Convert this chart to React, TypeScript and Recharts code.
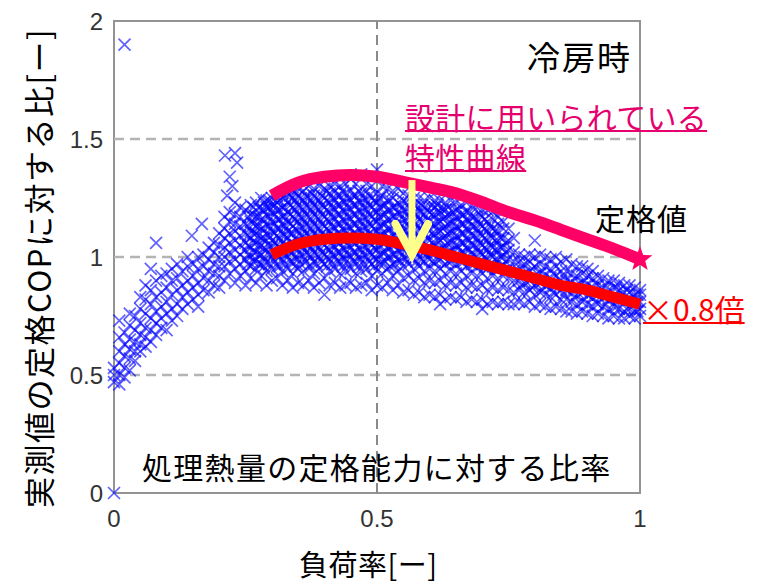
import React from 'react';
import { ComposedChart, Scatter, Line, XAxis, YAxis, ReferenceLine, ReferenceArea } from 'recharts';

// measured points, grouped by load ratio column: [x, [y values]]
const leftCols: [number, number[]][] = [
  [0.0, [0.47, 0.5, 0.53]],
  [0.01, [0.46, 0.5, 0.55, 0.6, 0.66, 0.73]],
  [0.02, [0.49, 0.53, 0.58, 0.63, 0.68]],
  [0.03, [0.52, 0.57, 0.61, 0.65, 0.71, 0.76]],
  [0.04, [0.56, 0.6, 0.64, 0.69, 0.75]],
  [0.05, [0.6, 0.63, 0.67, 0.72, 0.78, 0.83]],
  [0.06, [0.62, 0.66, 0.7, 0.76, 0.82, 0.88]],
  [0.07, [0.64, 0.69, 0.74, 0.8, 0.86, 0.95]],
  [0.08, [0.67, 0.72, 0.77, 0.83, 0.9]],
  [0.09, [0.7, 0.74, 0.79, 0.85, 0.92]],
  [0.1, [0.69, 0.76, 0.81, 0.87, 0.93]],
  [0.11, [0.73, 0.78, 0.84, 0.9, 0.95]],
  [0.12, [0.75, 0.8, 0.86, 0.91, 0.97]],
  [0.13, [0.78, 0.83, 0.88, 0.94]],
  [0.14, [0.8, 0.85, 0.9, 0.96, 1.0]],
  [0.15, [0.82, 0.87, 0.92, 0.97]],
  [0.16, [0.79, 0.84, 0.89, 0.95, 1.0]],
  [0.17, [0.86, 0.91, 0.96, 1.01]],
  [0.18, [0.85, 0.9, 0.94, 0.99, 1.04]],
  [0.19, [0.88, 0.93, 0.97, 1.02, 1.06]],
  [0.2, [0.87, 0.92, 0.96, 1.0, 1.05, 1.1]],
];

const mainCols: [number, number[]][] = [
  [0.21, [0.9, 0.96, 1.0, 1.04, 1.08, 1.12, 1.17]],
  [0.22, [0.93, 0.98, 1.02, 1.06, 1.1, 1.15, 1.19]],
  [0.23, [0.89, 0.95, 0.99, 1.03, 1.07, 1.11, 1.14, 1.18]],
  [0.24, [0.92, 0.97, 1.01, 1.05, 1.09, 1.13, 1.17, 1.21]],
  [0.25, [0.88, 0.94, 0.99, 1.03, 1.06, 1.1, 1.14, 1.2]],
  [0.26, [0.91, 0.96, 1.0, 1.04, 1.08, 1.11, 1.15, 1.18, 1.22]],
  [0.27, [0.89, 0.95, 0.99, 1.02, 1.06, 1.1, 1.13, 1.17, 1.23]],
  [0.28, [0.92, 0.97, 1.01, 1.05, 1.08, 1.12, 1.16, 1.2, 1.25]],
  [0.29, [0.88, 0.94, 0.98, 1.03, 1.07, 1.1, 1.14, 1.18, 1.21, 1.24]],
  [0.3, [0.9, 0.95, 1.0, 1.04, 1.07, 1.11, 1.15, 1.19, 1.22, 1.25]],
  [0.31, [0.91, 0.96, 1.01, 1.05, 1.09, 1.12, 1.16, 1.2, 1.23, 1.26]],
  [0.32, [0.88, 0.94, 0.99, 1.03, 1.06, 1.1, 1.14, 1.17, 1.21, 1.27]],
  [0.33, [0.9, 0.95, 1.0, 1.04, 1.08, 1.11, 1.15, 1.19, 1.23, 1.27]],
  [0.34, [0.87, 0.93, 0.98, 1.02, 1.06, 1.1, 1.13, 1.17, 1.21, 1.25, 1.28]],
  [0.35, [0.89, 0.95, 0.99, 1.03, 1.07, 1.11, 1.15, 1.18, 1.22, 1.26, 1.29]],
  [0.36, [0.88, 0.94, 1.0, 1.04, 1.08, 1.12, 1.16, 1.2, 1.24, 1.28]],
  [0.37, [0.9, 0.96, 1.01, 1.05, 1.09, 1.13, 1.17, 1.21, 1.25, 1.3]],
  [0.38, [0.87, 0.93, 0.98, 1.02, 1.06, 1.1, 1.14, 1.18, 1.22, 1.26, 1.29]],
  [0.39, [0.89, 0.95, 1.0, 1.04, 1.08, 1.12, 1.16, 1.2, 1.24, 1.3]],
  [0.4, [0.84, 0.91, 0.97, 1.01, 1.05, 1.09, 1.13, 1.17, 1.21, 1.25, 1.29]],
  [0.41, [0.88, 0.94, 0.99, 1.03, 1.07, 1.11, 1.15, 1.19, 1.23, 1.27, 1.3]],
  [0.42, [0.89, 0.95, 1.0, 1.04, 1.08, 1.12, 1.16, 1.2, 1.24, 1.28, 1.31]],
  [0.43, [0.87, 0.93, 0.98, 1.02, 1.06, 1.1, 1.14, 1.18, 1.22, 1.26, 1.3]],
  [0.44, [0.88, 0.94, 0.99, 1.03, 1.07, 1.11, 1.15, 1.19, 1.23, 1.27, 1.31]],
  [0.45, [0.89, 0.95, 1.0, 1.04, 1.08, 1.12, 1.16, 1.2, 1.24, 1.28, 1.33]],
  [0.46, [0.87, 0.93, 0.98, 1.02, 1.06, 1.1, 1.14, 1.18, 1.22, 1.26, 1.31]],
  [0.47, [0.88, 0.94, 0.99, 1.03, 1.07, 1.11, 1.15, 1.19, 1.23, 1.27, 1.35]],
  [0.48, [0.89, 0.95, 1.0, 1.04, 1.08, 1.12, 1.16, 1.2, 1.24, 1.28, 1.31]],
  [0.49, [0.86, 0.92, 0.97, 1.01, 1.05, 1.09, 1.13, 1.17, 1.21, 1.25, 1.3]],
  [0.5, [0.88, 0.94, 0.99, 1.03, 1.07, 1.11, 1.15, 1.19, 1.23, 1.27, 1.37]],
  [0.51, [0.87, 0.93, 0.98, 1.02, 1.06, 1.1, 1.14, 1.18, 1.22, 1.26, 1.3]],
  [0.52, [0.89, 0.95, 1.0, 1.04, 1.08, 1.12, 1.16, 1.2, 1.24, 1.29]],
  [0.53, [0.86, 0.92, 0.97, 1.01, 1.05, 1.09, 1.13, 1.17, 1.21, 1.25, 1.28]],
  [0.54, [0.88, 0.94, 0.99, 1.03, 1.07, 1.11, 1.15, 1.19, 1.23, 1.29]],
  [0.55, [0.85, 0.91, 0.96, 1.0, 1.04, 1.08, 1.12, 1.16, 1.2, 1.24, 1.27]],
];

const blobCols: [number, number[]][] = [
  [0.56, [0.86, 0.92, 0.97, 1.01, 1.05, 1.09, 1.13, 1.17, 1.21, 1.26]],
  [0.57, [0.84, 0.9, 0.95, 0.99, 1.03, 1.07, 1.11, 1.15, 1.19, 1.22, 1.25]],
  [0.58, [0.85, 0.91, 0.96, 1.0, 1.04, 1.08, 1.12, 1.16, 1.2, 1.25]],
  [0.59, [0.83, 0.89, 0.94, 0.98, 1.02, 1.06, 1.1, 1.14, 1.18, 1.21, 1.24]],
  [0.6, [0.84, 0.9, 0.95, 0.99, 1.03, 1.07, 1.11, 1.15, 1.19, 1.25]],
  [0.61, [0.83, 0.89, 0.94, 0.98, 1.02, 1.06, 1.1, 1.14, 1.18, 1.21, 1.24]],
  [0.62, [0.84, 0.9, 0.95, 0.99, 1.03, 1.07, 1.11, 1.15, 1.19, 1.24]],
  [0.63, [0.82, 0.88, 0.93, 0.97, 1.01, 1.05, 1.09, 1.13, 1.17, 1.2, 1.23]],
  [0.64, [0.83, 0.89, 0.94, 0.98, 1.02, 1.06, 1.1, 1.14, 1.18, 1.24]],
  [0.65, [0.82, 0.88, 0.93, 0.97, 1.01, 1.05, 1.09, 1.13, 1.17, 1.2, 1.23]],
  [0.66, [0.83, 0.89, 0.94, 0.98, 1.02, 1.06, 1.1, 1.14, 1.18, 1.22]],
  [0.67, [0.81, 0.87, 0.92, 0.96, 1.0, 1.04, 1.08, 1.12, 1.16, 1.19, 1.23]],
  [0.68, [0.82, 0.88, 0.93, 0.97, 1.01, 1.05, 1.09, 1.13, 1.17, 1.22]],
  [0.69, [0.81, 0.87, 0.92, 0.96, 1.0, 1.04, 1.08, 1.12, 1.16, 1.21]],
  [0.7, [0.82, 0.88, 0.93, 0.97, 1.01, 1.05, 1.09, 1.13, 1.17, 1.2]],
  [0.71, [0.8, 0.86, 0.91, 0.95, 0.99, 1.03, 1.07, 1.11, 1.15, 1.2]],
  [0.72, [0.81, 0.87, 0.92, 0.96, 1.0, 1.04, 1.08, 1.12, 1.16, 1.19]],
  [0.73, [0.8, 0.86, 0.91, 0.95, 0.99, 1.03, 1.07, 1.11, 1.14, 1.17]],
  [0.74, [0.81, 0.87, 0.92, 0.96, 1.0, 1.04, 1.08, 1.12, 1.15]],
  [0.75, [0.8, 0.86, 0.91, 0.95, 0.99, 1.03, 1.07, 1.12]],
  [0.76, [0.8, 0.85, 0.9, 0.94, 0.98, 1.02, 1.08]],
];

const rightCols: [number, number[]][] = [
  [0.77, [0.81, 0.86, 0.9, 0.94, 0.98, 1.01]],
  [0.78, [0.8, 0.85, 0.89, 0.93, 0.97, 1.0]],
  [0.79, [0.81, 0.86, 0.9, 0.94, 0.98, 1.01]],
  [0.8, [0.79, 0.84, 0.88, 0.92, 0.96, 1.0]],
  [0.81, [0.8, 0.85, 0.89, 0.93, 0.97, 1.01]],
  [0.82, [0.79, 0.84, 0.88, 0.92, 0.96, 1.0]],
  [0.83, [0.78, 0.83, 0.87, 0.91, 0.95, 0.99]],
  [0.84, [0.79, 0.84, 0.88, 0.92, 0.96, 1.0]],
  [0.85, [0.78, 0.82, 0.86, 0.9, 0.94, 0.98]],
  [0.86, [0.77, 0.82, 0.86, 0.9, 0.94, 0.99]],
  [0.87, [0.77, 0.81, 0.85, 0.89, 0.93, 0.97]],
  [0.88, [0.76, 0.8, 0.84, 0.88, 0.92, 0.96]],
  [0.89, [0.77, 0.81, 0.85, 0.89, 0.93, 0.96]],
  [0.9, [0.76, 0.8, 0.84, 0.88, 0.92, 0.95]],
  [0.91, [0.75, 0.79, 0.83, 0.87, 0.91, 0.94]],
  [0.92, [0.76, 0.8, 0.84, 0.88, 0.92]],
  [0.93, [0.75, 0.79, 0.83, 0.87, 0.91]],
  [0.94, [0.74, 0.78, 0.82, 0.86, 0.9]],
  [0.95, [0.75, 0.79, 0.83, 0.87, 0.9]],
  [0.96, [0.74, 0.78, 0.82, 0.86, 0.89]],
  [0.97, [0.74, 0.77, 0.81, 0.85, 0.88]],
  [0.98, [0.75, 0.78, 0.82, 0.85, 0.88]],
  [0.99, [0.74, 0.77, 0.8, 0.84, 0.87]],
  [1.0, [0.75, 0.78, 0.81, 0.84, 0.86]],
];

// the crowded core between the columns above
const coreCols: [number, number[]][] = [
  [0.255, [0.97, 1.01, 1.05, 1.09, 1.13, 1.17]],
  [0.265, [0.98, 1.02, 1.06, 1.1, 1.14, 1.18, 1.21]],
  [0.275, [0.97, 1.01, 1.05, 1.09, 1.13, 1.17, 1.21]],
  [0.285, [0.96, 1.0, 1.04, 1.08, 1.12, 1.16, 1.2, 1.23]],
  [0.295, [0.97, 1.01, 1.05, 1.09, 1.13, 1.17, 1.21, 1.24]],
  [0.305, [0.98, 1.02, 1.06, 1.1, 1.14, 1.18, 1.22]],
  [0.315, [0.96, 1.0, 1.04, 1.08, 1.12, 1.16, 1.2, 1.24]],
  [0.325, [0.97, 1.01, 1.05, 1.09, 1.13, 1.17, 1.21, 1.25]],
  [0.335, [0.98, 1.02, 1.06, 1.1, 1.14, 1.18, 1.22, 1.26]],
  [0.345, [0.96, 1.0, 1.04, 1.08, 1.12, 1.16, 1.2, 1.24, 1.27]],
  [0.355, [0.97, 1.01, 1.05, 1.09, 1.13, 1.17, 1.21, 1.25]],
  [0.365, [0.98, 1.02, 1.06, 1.1, 1.14, 1.18, 1.22, 1.26]],
  [0.375, [0.96, 1.0, 1.04, 1.08, 1.12, 1.16, 1.2, 1.24, 1.27]],
  [0.385, [0.97, 1.01, 1.05, 1.09, 1.13, 1.17, 1.21, 1.25]],
  [0.395, [0.98, 1.02, 1.06, 1.1, 1.14, 1.18, 1.22, 1.26]],
  [0.405, [0.96, 1.0, 1.04, 1.08, 1.12, 1.16, 1.2, 1.24, 1.28]],
  [0.415, [0.97, 1.01, 1.05, 1.09, 1.13, 1.17, 1.21, 1.25]],
  [0.425, [0.98, 1.02, 1.06, 1.1, 1.14, 1.18, 1.22, 1.26]],
  [0.435, [0.96, 1.0, 1.04, 1.08, 1.12, 1.16, 1.2, 1.24, 1.28]],
  [0.445, [0.97, 1.01, 1.05, 1.09, 1.13, 1.17, 1.21, 1.25]],
  [0.455, [0.98, 1.02, 1.06, 1.1, 1.14, 1.18, 1.22, 1.26]],
  [0.465, [0.96, 1.0, 1.04, 1.08, 1.12, 1.16, 1.2, 1.24, 1.28]],
  [0.475, [0.97, 1.01, 1.05, 1.09, 1.13, 1.17, 1.21, 1.25]],
  [0.485, [0.98, 1.02, 1.06, 1.1, 1.14, 1.18, 1.22, 1.26]],
  [0.495, [0.96, 1.0, 1.04, 1.08, 1.12, 1.16, 1.2, 1.24]],
  [0.505, [0.97, 1.01, 1.05, 1.09, 1.13, 1.17, 1.21, 1.25]],
  [0.515, [0.98, 1.02, 1.06, 1.1, 1.14, 1.18, 1.22]],
  [0.525, [0.96, 1.0, 1.04, 1.08, 1.12, 1.16, 1.2, 1.24]],
  [0.535, [0.97, 1.01, 1.05, 1.09, 1.13, 1.17, 1.21]],
  [0.545, [0.98, 1.02, 1.06, 1.1, 1.14, 1.18, 1.22]],
  [0.555, [0.99, 1.03, 1.07, 1.11, 1.15, 1.19, 1.23]],
  [0.565, [1.0, 1.04, 1.08, 1.12, 1.16, 1.2]],
  [0.575, [0.98, 1.02, 1.06, 1.1, 1.14, 1.18, 1.22]],
  [0.585, [0.99, 1.03, 1.07, 1.11, 1.15, 1.19, 1.22]],
  [0.595, [1.0, 1.04, 1.08, 1.12, 1.16, 1.2]],
  [0.605, [0.98, 1.02, 1.06, 1.1, 1.14, 1.18, 1.22]],
  [0.615, [0.99, 1.03, 1.07, 1.11, 1.15, 1.19, 1.22]],
  [0.625, [1.0, 1.04, 1.08, 1.12, 1.16, 1.2]],
  [0.635, [0.98, 1.02, 1.06, 1.1, 1.14, 1.18, 1.21]],
  [0.645, [0.99, 1.03, 1.07, 1.11, 1.15, 1.19]],
  [0.655, [1.0, 1.04, 1.08, 1.12, 1.16, 1.2]],
  [0.665, [0.98, 1.02, 1.06, 1.1, 1.14, 1.18]],
  [0.675, [0.99, 1.03, 1.07, 1.11, 1.15, 1.19]],
  [0.685, [0.97, 1.01, 1.05, 1.09, 1.13, 1.17]],
  [0.695, [0.98, 1.02, 1.06, 1.1, 1.14, 1.18]],
  [0.705, [0.96, 1.0, 1.04, 1.08, 1.12, 1.16]],
  [0.715, [0.97, 1.01, 1.05, 1.09, 1.13]],
  [0.725, [0.95, 0.99, 1.03, 1.07, 1.11]],
  [0.735, [0.96, 1.0, 1.04, 1.08]],
  [0.745, [0.94, 0.98, 1.02, 1.06]],
  [0.775, [0.88, 0.92, 0.96]],
  [0.795, [0.87, 0.91, 0.95]],
  [0.815, [0.86, 0.9, 0.94]],
  [0.835, [0.85, 0.89, 0.93]],
  [0.855, [0.84, 0.88, 0.92]],
  [0.875, [0.83, 0.87, 0.91]],
  [0.895, [0.82, 0.86, 0.9]],
  [0.915, [0.81, 0.85, 0.89]],
  [0.935, [0.8, 0.84, 0.88]],
  [0.955, [0.79, 0.83, 0.87]],
  [0.975, [0.78, 0.82, 0.86]],
  [0.995, [0.77, 0.81, 0.84]],
];

const outliers = [
  { x: 0.02, y: 1.9 }, { x: 0.0, y: 0.0 }, { x: 0.08, y: 1.06 }, { x: 0.148, y: 1.09 },
  { x: 0.167, y: 1.14 }, { x: 0.211, y: 1.43 }, { x: 0.23, y: 1.44 }, { x: 0.234, y: 1.4 },
  { x: 0.22, y: 1.34 }, { x: 0.225, y: 1.3 }, { x: 0.215, y: 1.26 }, { x: 0.23, y: 1.23 },
  { x: 0.8, y: 1.07 }, { x: 0.62, y: 0.8 }, { x: 0.7, y: 0.78 },
];

// design characteristic curve and the 0.8x version
const designCurve = [
  { x: 0.3, y: 1.26 }, { x: 0.35, y: 1.315 }, { x: 0.4, y: 1.34 }, { x: 0.45, y: 1.347 },
  { x: 0.5, y: 1.34 }, { x: 0.55, y: 1.318 }, { x: 0.6, y: 1.295 }, { x: 0.65, y: 1.27 },
  { x: 0.7, y: 1.232 }, { x: 0.75, y: 1.19 }, { x: 0.8, y: 1.155 }, { x: 0.85, y: 1.115 },
  { x: 0.9, y: 1.075 }, { x: 0.95, y: 1.035 }, { x: 1.0, y: 0.99 },
];
const reducedCurve = [
  { x: 0.3, y: 1.01 }, { x: 0.35, y: 1.055 }, { x: 0.4, y: 1.075 }, { x: 0.45, y: 1.08 },
  { x: 0.5, y: 1.075 }, { x: 0.55, y: 1.055 }, { x: 0.6, y: 1.03 }, { x: 0.65, y: 1.0 },
  { x: 0.7, y: 0.97 }, { x: 0.75, y: 0.94 }, { x: 0.8, y: 0.91 }, { x: 0.85, y: 0.88 },
  { x: 0.9, y: 0.86 }, { x: 0.95, y: 0.83 }, { x: 1.0, y: 0.8 },
];
const ratedPoint = [{ x: 1.0, y: 0.99 }];
const arrowShaft = [{ x: 0.5665, y: 1.326 }, { x: 0.5665, y: 1.03 }];
const arrowHead = [{ x: 0.535, y: 1.14 }, { x: 0.5665, y: 1.01 }, { x: 0.597, y: 1.14 }];

const xTicks = [0, 0.5, 1];
const yTicks = [0, 0.5, 1, 1.5, 2];

const points = [...leftCols, ...mainCols, ...blobCols, ...rightCols, ...coreCols]
  .flatMap(([x, ys]) => ys.map((y) => ({ x, y })))
  .concat(outliers);

const Cross = (props: any) => {
  const { cx, cy } = props;
  const s = 6;
  return (
    <path
      d={`M${cx - s},${cy - s}L${cx + s},${cy + s}M${cx - s},${cy + s}L${cx + s},${cy - s}`}
      stroke="#0000ff"
      strokeOpacity={0.62}
      strokeWidth={1.7}
      fill="none"
    />
  );
};

const Star = (props: any) => {
  const { cx, cy } = props;
  const pts: string[] = [];
  for (let i = 0; i < 10; i++) {
    const r = i % 2 === 0 ? 13 : 5.5;
    const a = -Math.PI / 2 + (i * Math.PI) / 5;
    pts.push(`${cx + r * Math.cos(a)},${cy + r * Math.sin(a)}`);
  }
  return <polygon points={pts.join(' ')} fill="#ff0066" />;
};

const jp = '"Noto Sans CJK JP", "Noto Sans", sans-serif';
const tickStyle = { fontFamily: '"Liberation Sans", Arial, sans-serif', fontSize: 24, fill: '#333' };

const txt = (left: number, top: number, size: number, color: string, extra: any = {}) => ({
  position: 'absolute' as const,
  left,
  top,
  fontSize: size,
  lineHeight: `${size}px`,
  color,
  fontFamily: jp,
  whiteSpace: 'nowrap' as const,
  ...extra,
});

const plotMargin = { top: 21, right: 122, left: 114, bottom: 93 };

export default function App() {
  return (
    <div style={{ position: 'absolute', left: 0, top: 0, width: 762, height: 586, background: '#fff' }}>
      {/* base layer: axes, grid and measured points */}
      <ComposedChart width={762} height={586} margin={{ top: 21, right: 122, left: 54, bottom: 53 }}>
        <XAxis
          type="number"
          dataKey="x"
          domain={[0, 1]}
          ticks={xTicks}
          axisLine={false}
          tickLine={false}
          tickSize={0}
          tickMargin={17}
          height={40}
          tick={tickStyle}
        />
        <YAxis
          type="number"
          dataKey="y"
          domain={[0, 2]}
          ticks={yTicks}
          axisLine={false}
          tickLine={false}
          tickSize={0}
          tickMargin={11}
          width={60}
          tick={tickStyle}
        />
        {[0.5, 1, 1.5].map((v) => (
          <ReferenceLine key={v} y={v} stroke="#b4b4b4" strokeWidth={2.5} strokeDasharray="10 6" />
        ))}
        <ReferenceLine x={0.5} stroke="#8a8a8a" strokeWidth={2} strokeDasharray="10 6" />
        <Scatter data={points} shape={<Cross />} isAnimationActive={false} />
        <ReferenceArea x1={0} x2={1} y1={0} y2={2} fill="none" stroke="#939393" strokeWidth={2} ifOverflow="visible" />
      </ComposedChart>

      {/* overlay layer: curves, arrow and rated point */}
      <div style={{ position: 'absolute', left: 0, top: 0 }}>
        <ComposedChart width={762} height={586} margin={plotMargin}>
          <XAxis type="number" dataKey="x" domain={[0, 1]} hide />
          <YAxis type="number" dataKey="y" domain={[0, 2]} hide />
          <Line data={designCurve} dataKey="y" type="monotone" stroke="#ff0066" strokeWidth={12} dot={false} isAnimationActive={false} />
          <Line data={reducedCurve} dataKey="y" type="monotone" stroke="#ff0000" strokeWidth={11} dot={false} isAnimationActive={false} />
          <Line data={arrowShaft} dataKey="y" type="linear" stroke="#ffff8c" strokeWidth={7} dot={false} isAnimationActive={false} />
          <Line data={arrowHead} dataKey="y" type="linear" stroke="#ffff8c" strokeWidth={8} strokeLinecap="round" strokeLinejoin="miter" dot={false} isAnimationActive={false} />
          <Scatter data={ratedPoint} shape={<Star />} isAnimationActive={false} />
        </ComposedChart>
      </div>

      <div style={txt(527, 40, 33, '#000', { letterSpacing: 2 })}>冷房時</div>
      <div style={txt(405, 101, 30, '#e6006e', { letterSpacing: 0.3, textDecoration: 'underline', textDecorationThickness: 2 })}>設計に用いられている</div>
      <div style={txt(405, 141, 30, '#e6006e', { letterSpacing: 0.3, textDecoration: 'underline', textDecorationThickness: 2 })}>特性曲線</div>
      <div style={txt(595, 202, 30, '#000', { letterSpacing: 1 })}>定格値</div>
      <div style={txt(643, 293, 30, '#ff0000', { textDecoration: 'underline', textDecorationThickness: 2 })}>×0.8倍</div>
      <div style={txt(142, 451, 30, '#000', { letterSpacing: 1.3 })}>処理熱量の定格能力に対する比率</div>
      <div style={txt(299, 549, 29, '#000', { letterSpacing: 0.5 })}>負荷率[ー]</div>
      <div
        style={txt(37, 268, 31, '#000', {
          letterSpacing: 1.5,
          transform: 'translate(-50%, -50%) rotate(-90deg)',
        })}
      >
        実測値の定格COPに対する比[ー]
      </div>
    </div>
  );
}
